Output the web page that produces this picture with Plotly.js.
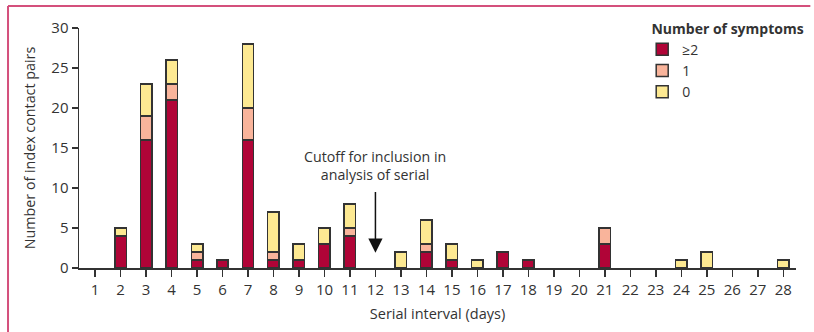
<!DOCTYPE html>
<html>
<head>
<meta charset="utf-8">
<script src="https://cdn.plot.ly/plotly-3.0.1.min.js"></script>
<style>html,body{margin:0;padding:0;background:#fff;}#chart{width:814px;height:332px;}</style>
</head>
<body>
<div id="chart"></div>
<script>
const days = [1,2,3,4,5,6,7,8,9,10,11,12,13,14,15,16,17,18,19,20,21,22,23,24,25,26,27,28];
const sym2plus = [0,4,16,21,1,1,16,1,1,3,4,0,0,2,1,0,2,1,0,0,3,0,0,0,0,0,0,0];
const sym1     = [0,0,3,2,1,0,4,1,0,0,1,0,0,1,0,0,0,0,0,0,2,0,0,0,0,0,0,0];
const sym0     = [0,1,4,3,1,0,8,5,2,2,3,0,2,3,2,1,0,0,0,0,0,0,0,1,2,0,0,1];
const seriesNames = ['≥2','1','0'];
const seriesColors = ['#b00437','#f9b49b','#fde992'];
const yTicks = [0,5,10,15,20,25,30];

const font = 'Open Sans, Noto Sans, sans-serif';
const ink = '#333333';
const allSeries = [sym2plus, sym1, sym0];
// zero counts are left out so that no empty outlined bar is drawn
const traces = allSeries.map((vals, i) => ({
  type: 'bar',
  x: days,
  y: vals.map(v => v === 0 ? null : v),
  name: seriesNames[i],
  width: 0.45,
  marker: {color: seriesColors[i], line: {color: ink, width: 1.5}},
  hoverinfo: 'x+y+name'
}));

const layout = {
  width: 814, height: 332,
  margin: {l: 79, r: 8, t: 28, b: 63.5},
  paper_bgcolor: '#fff', plot_bgcolor: '#fff',
  font: {family: font, size: 15, color: ink},
  barmode: 'stack',
  showlegend: true,
  legend: {
    x: 0.7855, xanchor: 'left', y: 1.052, yanchor: 'top',
    traceorder: 'normal',
    title: {text: '&nbsp;&nbsp;<b>Number of symptoms</b>', font: {size: 14, color: ink}},
    font: {size: 14, color: ink},
    itemwidth: 30,
    tracegroupgap: 0,
    bgcolor: 'rgba(0,0,0,0)'
  },
  xaxis: {
    range: [0.37, 28.5],
    tickmode: 'array', tickvals: days, ticktext: days.map(String),
    ticks: 'outside', ticklen: 7, tickwidth: 1.5, tickcolor: ink,
    showline: true, linecolor: ink, linewidth: 1.5,
    showgrid: false, zeroline: false,
    tickfont: {size: 15, color: ink},
    title: {text: 'Serial interval (days)', font: {size: 14.5, color: ink}, standoff: 11}
  },
  yaxis: {
    range: [0, 30],
    tickmode: 'array', tickvals: yTicks,
    ticks: 'outside', ticklen: 6, tickwidth: 1.5, tickcolor: ink,
    showline: true, linecolor: ink, linewidth: 1.5,
    showgrid: false, zeroline: false,
    tickfont: {size: 15, color: ink},
    title: {text: 'Number of index contact pairs', font: {size: 14.3, color: ink}, standoff: 12}
  },
  annotations: [
    {x: 12, y: 1.9, xref: 'x', yref: 'y', ax: 12, ay: 9.7, axref: 'x', ayref: 'y',
     text: '', showarrow: true, arrowhead: 2, arrowsize: 1.9, arrowwidth: 1.5, arrowcolor: '#111'},
    {x: 12, y: 12.8, xref: 'x', yref: 'y', text: 'Cutoff for inclusion in<br>analysis of serial',
     showarrow: false, xanchor: 'center', yanchor: 'middle', align: 'center',
     font: {size: 14.2, color: ink}}
  ],
  shapes: [
    {type: 'line', xref: 'paper', yref: 'paper', x0: -0.099, x1: -0.099, y0: 1.0915, y1: -0.3, line: {color: '#d4507c', width: 2}},
    {type: 'line', xref: 'paper', yref: 'paper', x0: -0.099, x1: 1.02, y0: 1.0915, y1: 1.0915, line: {color: '#d4507c', width: 2}}
  ]
};

Plotly.newPlot('chart', traces, layout, {displayModeBar: false, staticPlot: true});
</script>
</body>
</html>
